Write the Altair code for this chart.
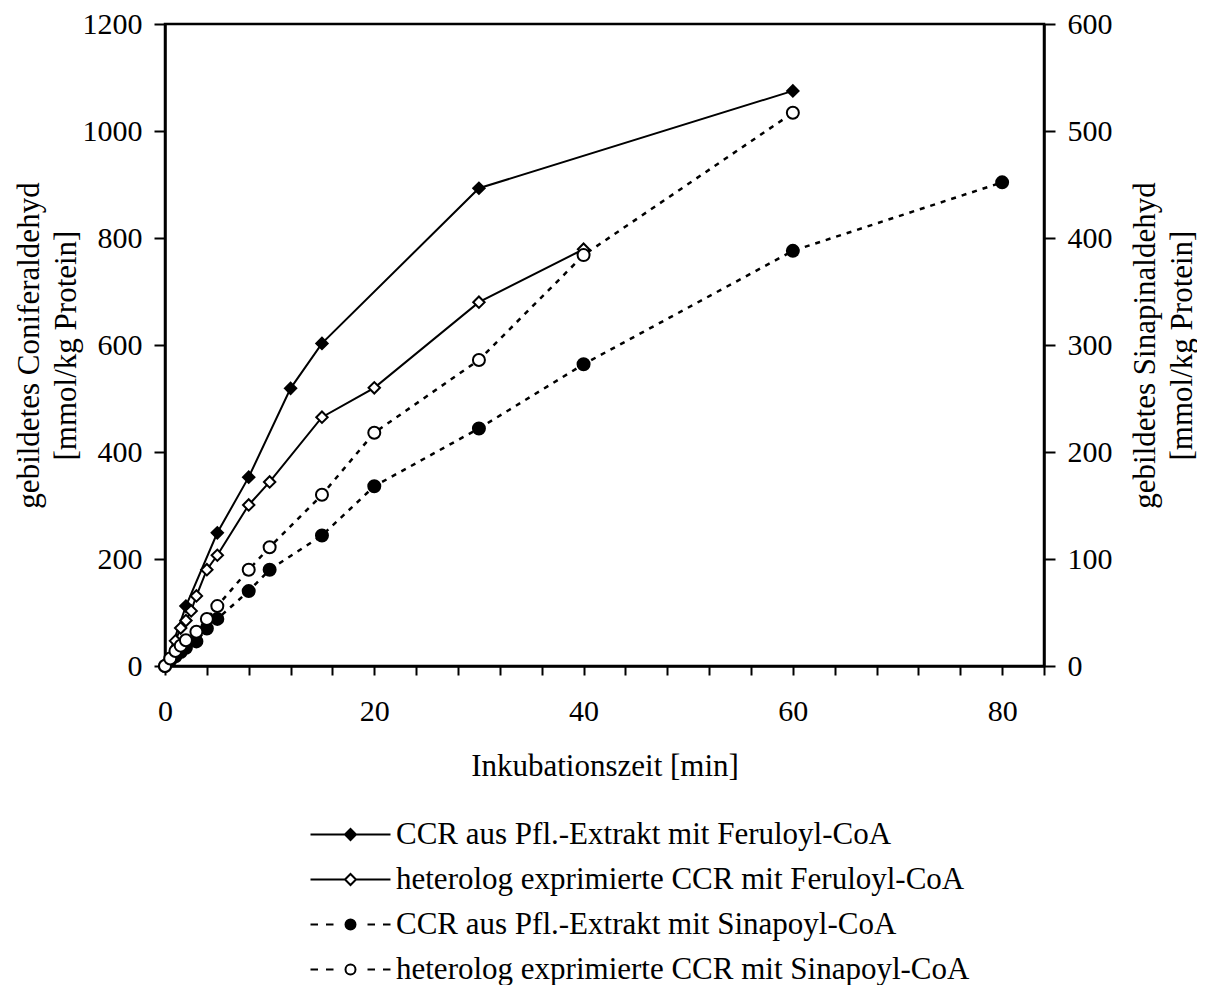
import altair as alt
import pandas as pd

FONT = "Liberation Serif"

# ---- data ----
legend_labels = [
    "CCR aus Pfl.-Extrakt mit Feruloyl-CoA",
    "heterolog exprimierte CCR mit Feruloyl-CoA",
    "CCR aus Pfl.-Extrakt mit Sinapoyl-CoA",
    "heterolog exprimierte CCR mit Sinapoyl-CoA",
]

# Coniferaldehyd (left axis)
t_fe_ext = [0, 2, 5, 8, 12, 15, 30, 60]
v_fe_ext = [0, 112, 249, 353, 519, 603, 893, 1075]

t_fe_het = [0, 1, 1.5, 2, 2.5, 3, 4, 5, 8, 10, 15, 20, 30, 40]
v_fe_het = [0, 47, 71, 85, 103, 131, 180, 207, 301, 344, 465, 520, 680, 779]

# Sinapinaldehyd (right axis)
t_si_ext = [0, 0.5, 1, 1.5, 2, 3, 4, 5, 8, 10, 15, 20, 30, 40, 60, 80]
v_si_ext = [0, 5, 9, 13, 17, 23, 35, 44, 70, 90, 122, 168, 222, 282, 388, 452]

t_si_het = [0, 0.5, 1, 1.5, 2, 3, 4, 5, 8, 10, 15, 20, 30, 40, 60]
v_si_het = [0, 7, 14, 19, 24, 32, 44, 56, 90, 111, 160, 218, 286, 384, 517]

x_ticks = list(range(0, 85, 4))
y_left_ticks = [0, 200, 400, 600, 800, 1000, 1200]
y_right_ticks = [0, 100, 200, 300, 400, 500, 600]

# legend symbols: line with marker (custom paths)
p_solid_dia = "M-4,0L-0.55,0M0.55,0L4,0M-0.55,0L0,-0.55L0.55,0L0,0.55Z"
p_dash_circ = ("M-4,0L-3.25,0M-2.45,0L-1.7,0M1.7,0L2.45,0M3.25,0L4,0"
               "M0.5,0A0.5,0.5 0 1,1 -0.5,0A0.5,0.5 0 1,1 0.5,0Z")
legend_paths = [p_solid_dia, p_solid_dia, p_dash_circ, p_dash_circ]
legend_fills = ["black", "white", "black", "white"]
legend_strokes = ["black", "black", "black", "black"]


def sdf(t, v, name):
    return pd.DataFrame({"t": t, "v": v, "series": name})


df_fe_ext = sdf(t_fe_ext, v_fe_ext, legend_labels[0])
df_fe_het = sdf(t_fe_het, v_fe_het, legend_labels[1])
df_si_ext = sdf(t_si_ext, v_si_ext, legend_labels[2])
df_si_het = sdf(t_si_het, v_si_het, legend_labels[3])

axis_common = dict(
    labelFont=FONT, labelFontSize=30, labelColor="black",
    titleFont=FONT, titleFontSize=31, titleFontWeight="normal", titleColor="black",
    domainColor="black", domainWidth=2.5, tickColor="black", tickWidth=2,
    grid=False, labelFlush=False, labelOverlap=False, format="d",
)

x_enc = alt.X(
    "t:Q",
    scale=alt.Scale(domain=[0, 84], nice=False, zero=True),
    axis=alt.Axis(
        values=x_ticks,
        labelExpr="datum.value % 20 == 0 ? datum.label : ''",
        title="Inkubationszeit [min]",
        tickSize=9, labelPadding=21, titlePadding=25,
        **axis_common,
    ),
)

y_left = alt.Y(
    "v:Q",
    scale=alt.Scale(domain=[0, 1200], nice=False),
    axis=alt.Axis(
        orient="left", values=y_left_ticks,
        title=["gebildetes Coniferaldehyd", "[mmol/kg Protein]"],
        titleLineHeight=37, titleX=-120,
        tickSize=11, labelPadding=12,
        **axis_common,
    ),
)

y_right = alt.Y(
    "v:Q",
    scale=alt.Scale(domain=[0, 600], nice=False),
    axis=alt.Axis(
        orient="right", values=y_right_ticks,
        title=["gebildetes Sinapinaldehyd", "[mmol/kg Protein]"],
        titleAngle=270, titleBaseline="top", titleLineHeight=37, titleX=86,
        tickSize=11, labelPadding=12,
        **axis_common,
    ),
)

solid_line = dict(color="black", strokeWidth=2)
dash_line = dict(color="black", strokeWidth=2.5, strokeDash=[5, 6])


def line(df, y, style):
    return alt.Chart(df).mark_line(**style).encode(x=x_enc, y=y)


def pts(df, y, shape, fill, size):
    return alt.Chart(df).mark_point(
        shape=shape, filled=True, fill=fill, stroke="black", strokeWidth=2,
        size=size, opacity=1,
    ).encode(x=x_enc, y=y)


leg = alt.Legend(
    title=None, orient="none", legendX=170, legendY=795, direction="vertical",
    labelFont=FONT, labelFontSize=31, labelColor="black", labelLimit=2000,
    labelOffset=30, rowPadding=13, symbolSize=400, symbolStrokeWidth=2,
    symbolOpacity=1,
)

legend_layer = alt.Chart(pd.DataFrame({"label": legend_labels})).mark_point(
    filled=True, strokeWidth=2, opacity=1
).encode(
    shape=alt.Shape("label:N", scale=alt.Scale(domain=legend_labels, range=legend_paths), legend=leg),
    fill=alt.Fill("label:N", scale=alt.Scale(domain=legend_labels, range=legend_fills), legend=leg),
    stroke=alt.Stroke("label:N", scale=alt.Scale(domain=legend_labels, range=legend_strokes), legend=leg),
).transform_filter("false")

left_group = alt.layer(
    line(df_fe_ext, y_left, solid_line),
    line(df_fe_het, y_left, solid_line),
    pts(df_fe_ext, y_left, "diamond", "black", 130),
    pts(df_fe_het, y_left, "diamond", "white", 130),
    legend_layer,
)

right_group = alt.layer(
    line(df_si_ext, y_right, dash_line),
    line(df_si_het, y_right, dash_line),
    pts(df_si_ext, y_right, "circle", "black", 144),
    pts(df_si_het, y_right, "circle", "white", 144),
)

chart = alt.layer(left_group, right_group).resolve_scale(
    y="independent", shape="independent", fill="independent", stroke="independent"
).properties(
    width=879, height=642,
    padding={"left": 5, "top": 1, "right": 0, "bottom": 0},
    background="white",
).configure_view(stroke="black", strokeWidth=2.5)

chart.save("out.html", embed_options={"renderer": "svg", "actions": False})
